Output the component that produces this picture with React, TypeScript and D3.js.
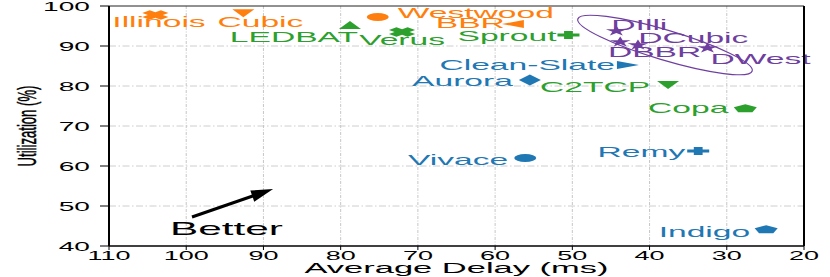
import React from "react";
import * as d3 from "d3";

// ---------- data ----------
const names = [
  "Illinois", "Cubic", "Westwood", "BBR", "LEDBAT", "Verus", "Sprout",
  "Clean-Slate", "Aurora", "C2TCP", "Copa", "Vivace", "Remy", "Indigo",
  "DIlli", "DCubic", "DBBR", "DWest",
];
const delays = [104.0, 92.6, 75.2, 57.7, 78.8, 72.05, 50.5, 42.8, 55.5, 37.6, 27.6, 56.1, 33.7, 24.9, 44.3, 43.8, 41.5, 32.5];
const utils = [97.75, 98.2, 97.25, 95.5, 95.25, 93.5, 92.75, 85.25, 81.5, 80.25, 74.5, 62.0, 63.75, 44.25, 93.75, 91.0, 90.25, 89.5];
const xTicks = [110, 100, 90, 80, 70, 60, 50, 40, 30, 20];
const yTicks = [40, 50, 60, 70, 80, 90, 100];
const xLabel = "Average Delay (ms)";
const yLabel = "Utilization (%)";
const betterText = "Better";
const betterArrow = [[99.25, 47.25], [88.75, 54.25]];
const betterTextPos = [102.1, 42.75];
const ellipseCenter = [38.0, 90.25];

// ---------- styles ----------
const ORANGE = "#ff7f0e", GREEN = "#2ca02c", BLUE = "#1f77b4", PURPLE = "#6f3fa0";
const colors = [ORANGE, ORANGE, ORANGE, ORANGE, GREEN, GREEN, GREEN, BLUE, BLUE, GREEN, GREEN, BLUE, BLUE, BLUE, PURPLE, PURPLE, PURPLE, PURPLE];
const markers = ["X", "v", "o", "<", "^", "X", "P", ">", "D", "v", "p", "o", "P", "p", "*", "*", "*", "*"];
// label offset from marker (px): dx, dy, anchor
const labelDx = [-43, 60, 20, -8, 8, 0, -12, -13, -17, -18, -17, -17, -13, -16, -5, 18, -30, 3];
const labelDy = [12, 14, 1, 4, 17, 13, 6, 5, 6, 7, 5, 7, 6, 8, -1, 1, 12, 16];
const labelAnchor = ["start", "end", "start", "end", "end", "middle", "end", "end", "end", "end", "end", "end", "end", "end", "start", "start", "start", "start"];

const W = 830, H = 277;
const FONT = "'Liberation Sans', Arial, Helvetica, sans-serif";
const SX = 2.4; // horizontal stretch of text
const MSX = 2.75; // horizontal stretch of markers

function markerPath(m: string): string {
  const r = 4;
  const poly = (pts: number[][]) => "M" + pts.map((p) => p.join(",")).join("L") + "Z";
  switch (m) {
    case "o":
      return d3.symbol(d3.symbolCircle, Math.PI * r * r)() as string;
    case "^":
      return poly([[0, -r], [r, r], [-r, r]]);
    case "v":
      return poly([[0, r], [r, -r], [-r, -r]]);
    case "<":
      return poly([[-r, 0], [r, -r], [r, r]]);
    case ">":
      return poly([[r, 0], [-r, -r], [-r, r]]);
    case "D":
      return poly([[0, -5.5], [4, 0], [0, 5.5], [-4, 0]]);
    case "P": {
      const a = r, t = r * 0.4;
      return poly([[-t, -a], [t, -a], [t, -t], [a, -t], [a, t], [t, t], [t, a], [-t, a], [-t, t], [-a, t], [-a, -t], [-t, -t]]);
    }
    case "X": {
      const a = r, t = r * 0.4;
      const pts = [[-t, -a], [t, -a], [t, -t], [a, -t], [a, t], [t, t], [t, a], [-t, a], [-t, t], [-a, t], [-a, -t], [-t, -t]];
      const c = Math.cos(Math.PI / 4), s = Math.sin(Math.PI / 4);
      return poly(pts.map(([x, y]) => [(x * c - y * s) * 1.2, (x * s + y * c) * 1.2]));
    }
    case "p": {
      const pts = d3.range(5).map((i) => {
        const ang = -Math.PI / 2 + (i * 2 * Math.PI) / 5;
        return [Math.cos(ang) * r * 1.1, Math.sin(ang) * r * 1.1 + 0.6];
      });
      return poly(pts);
    }
    case "*":
      return d3.symbol(d3.symbolStar, 34)() as string;
  }
  return "";
}

export default function App() {
  const x = d3.scaleLinear().domain([110, 20]).range([109, 804]);
  const y = d3.scaleLinear().domain([40, 100]).range([246, 6]);
  const [x0, x1] = x.range();
  const [y0, y1] = y.range();

  const [ta, hb] = betterArrow;
  const tx = x(ta[0]), ty = y(ta[1]), hx = x(hb[0]), hy = y(hb[1]);
  const len = Math.hypot(hx - tx, hy - ty);
  const ux = (hx - tx) / len, uy = (hy - ty) / len;
  const headL = 22, headW = 6;
  const bx = hx - ux * headL, by = hy - uy * headL;
  const arrowHead = `M${hx},${hy}L${bx - uy * headW},${by + ux * headW}L${bx + uy * headW},${by - ux * headW}Z`;

  const ecx = x(ellipseCenter[0]), ecy = y(ellipseCenter[1]);

  return (
    <svg width={W} height={H} style={{ position: "absolute", left: 0, top: 0, background: "#fff" }} fontFamily={FONT}>
      {/* grid */}
      {xTicks.slice(1, -1).map((t) => (
        <line key={"gx" + t} x1={x(t)} x2={x(t)} y1={y1} y2={y0} stroke="#c0c0c0" strokeWidth={0.9} strokeDasharray="3,1.5,1,1.5" />
      ))}
      {yTicks.slice(1, -1).map((t) => (
        <line key={"gy" + t} x1={x0} x2={x1} y1={y(t)} y2={y(t)} stroke="#c8c8c8" strokeWidth={0.9} strokeDasharray="7,2.5,1.5,2.5" />
      ))}

      {/* ellipse */}
      <ellipse cx={ecx} cy={ecy} rx={91} ry={15} transform={`rotate(16.6 ${ecx} ${ecy})`} fill="none" stroke={PURPLE} strokeWidth={1.2} />

      {/* markers */}
      {names.map((n, i) => (
        <path
          key={"m" + n}
          d={markerPath(markers[i])}
          fill={colors[i]}
          transform={`translate(${x(delays[i])},${y(utils[i])}) scale(${markers[i] === "*" ? 2.0 : MSX},1)`}
        />
      ))}

      {/* labels */}
      {names.map((n, i) => (
        <text
          key={"l" + n}
          transform={`translate(${x(delays[i]) + labelDx[i]},${y(utils[i]) + labelDy[i]}) scale(${SX},1)`}
          textAnchor={labelAnchor[i]}
          fontSize={14}
          fill={colors[i]}
        >
          {n}
        </text>
      ))}

      {/* spines */}
      <line x1={x0} x2={x1} y1={y1} y2={y1} stroke="#222" strokeWidth={1} />
      <line x1={x1} x2={x1} y1={y1} y2={y0} stroke="#000" strokeWidth={2} />
      <line x1={x0} x2={x1} y1={y0} y2={y0} stroke="#000" strokeWidth={1.6} />
      <line x1={x0} x2={x0} y1={y1} y2={y0} stroke="#000" strokeWidth={2} />

      {/* y ticks */}
      {yTicks.map((t) => (
        <g key={"yt" + t}>
          <line x1={x0 - 9} x2={x0} y1={y(t)} y2={y(t)} stroke="#000" strokeWidth={1} />
          <text transform={`translate(${x0 - 19},${y(t) + 4.5}) scale(2.25,1)`} textAnchor="end" fontSize={12.5} fill="#000">
            {t}
          </text>
        </g>
      ))}
      {/* x ticks */}
      {xTicks.map((t) => (
        <g key={"xt" + t}>
          <line x1={x(t)} x2={x(t)} y1={y0} y2={y0 + 4} stroke="#000" strokeWidth={1} />
          <text transform={`translate(${x(t)},${y0 + 13.5}) scale(2.25,1)`} textAnchor="middle" fontSize={12} fill="#000">
            {t}
          </text>
        </g>
      ))}

      {/* axis labels */}
      <text transform={`translate(${(x0 + x1) / 2},${272.5}) scale(2.38,1)`} textAnchor="middle" fontSize={14.5} fill="#000">
        {xLabel}
      </text>
      <text
        transform={`translate(${27},${(y0 + y1) / 2}) rotate(-90) scale(1.05,2.0)`}
        textAnchor="middle"
        dy="0.36em"
        fontSize={12.5}
        fill="#000"
        stroke="#000"
        strokeWidth={0.25}
      >
        {yLabel}
      </text>

      {/* better arrow */}
      <line x1={tx} y1={ty} x2={bx + ux * 2} y2={by + uy * 2} stroke="#000" strokeWidth={3} />
      <path d={arrowHead} fill="#000" />
      <text transform={`translate(${x(betterTextPos[0])},${y(betterTextPos[1])}) scale(2.35,1)`} fontSize={18} fill="#000">
        {betterText}
      </text>
    </svg>
  );
}
